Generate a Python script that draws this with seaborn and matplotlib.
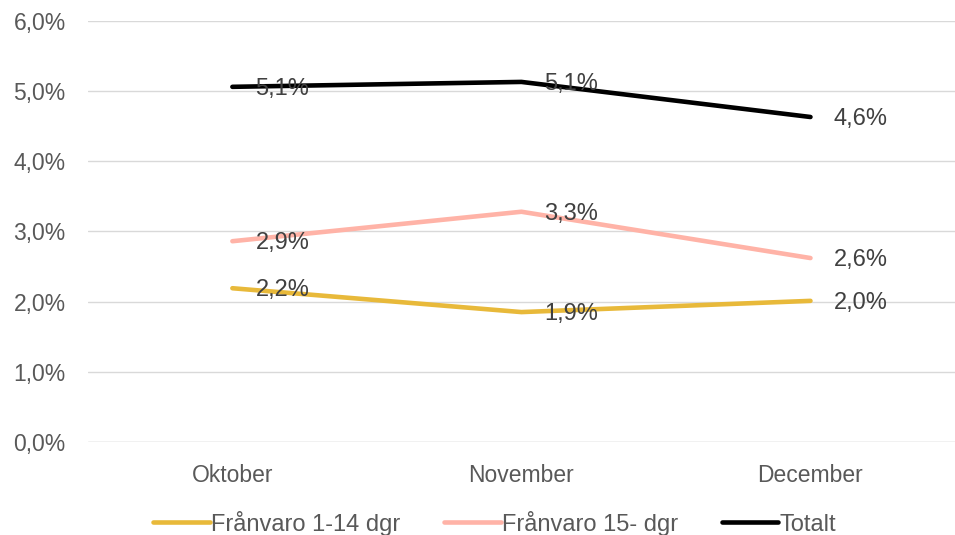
import pandas as pd
import matplotlib.pyplot as plt
import matplotlib.ticker as mticker
import seaborn as sns

# värden (procent)
months = ['Oktober', 'November', 'December']
franvaro_1_14 = [2.19, 1.85, 2.01]
franvaro_15 = [2.86, 3.28, 2.62]
totalt = [5.06, 5.13, 4.63]
series_names = ['Frånvaro 1-14 dgr', 'Frånvaro 15- dgr', 'Totalt']
labels_1_14 = ['2,2%', '1,9%', '2,0%']
labels_15 = ['2,9%', '3,3%', '2,6%']
labels_tot = ['5,1%', '5,1%', '4,6%']

colors = ['#E8B93A', '#FFB3A7', '#000000']

df = pd.DataFrame({
    'month': months * 3,
    'x': [0, 1, 2] * 3,
    'value': franvaro_1_14 + franvaro_15 + totalt,
    'serie': [series_names[0]] * 3 + [series_names[1]] * 3 + [series_names[2]] * 3,
})

sns.set_style('white')
plt.rcParams['font.family'] = ['Liberation Sans', 'DejaVu Sans']

fig, ax = plt.subplots(figsize=(9.55, 5.35), dpi=100)
fig.subplots_adjust(left=0.092, right=1.0, top=0.961, bottom=0.174)

sns.lineplot(data=df, x='x', y='value', hue='serie', palette=colors,
             linewidth=3.3, ax=ax, legend=True)

for vals, labs in [(franvaro_1_14, labels_1_14), (franvaro_15, labels_15), (totalt, labels_tot)]:
    for i, (v, l) in enumerate(zip(vals, labs)):
        ax.text(i + 0.08, v - 0.03, l, fontsize=17, color='#404040',
                va='center', ha='left')

ax.set_xlim(-0.5, 2.5)
ax.set_ylim(0, 6)
ax.set_yticks([0, 1, 2, 3, 4, 5, 6])
ax.yaxis.set_major_formatter(mticker.FuncFormatter(lambda v, p: f'{v:.1f}%'.replace('.', ',')))
ax.set_xticks([0, 1, 2])
ax.set_xticklabels(months)
ax.tick_params(axis='both', labelsize=16.5, colors='#595959', length=0)
ax.tick_params(axis='x', pad=16)
ax.tick_params(axis='y', pad=16)
ax.grid(axis='y', color='#D9D9D9', linewidth=1)
ax.set_xlabel('')
ax.set_ylabel('')
for s in ['top', 'right', 'left', 'bottom']:
    ax.spines[s].set_visible(False)
ax.axhline(0, color='#D9D9D9', linewidth=1)

leg = ax.legend(loc='center', bbox_to_anchor=(0.469, -0.193), ncol=3,
                frameon=False, fontsize=17, handlelength=2.4, handletextpad=0.05,
                columnspacing=1.85)
for t in leg.get_texts():
    t.set_color('#595959')

fig.savefig('out.png', dpi=100)
